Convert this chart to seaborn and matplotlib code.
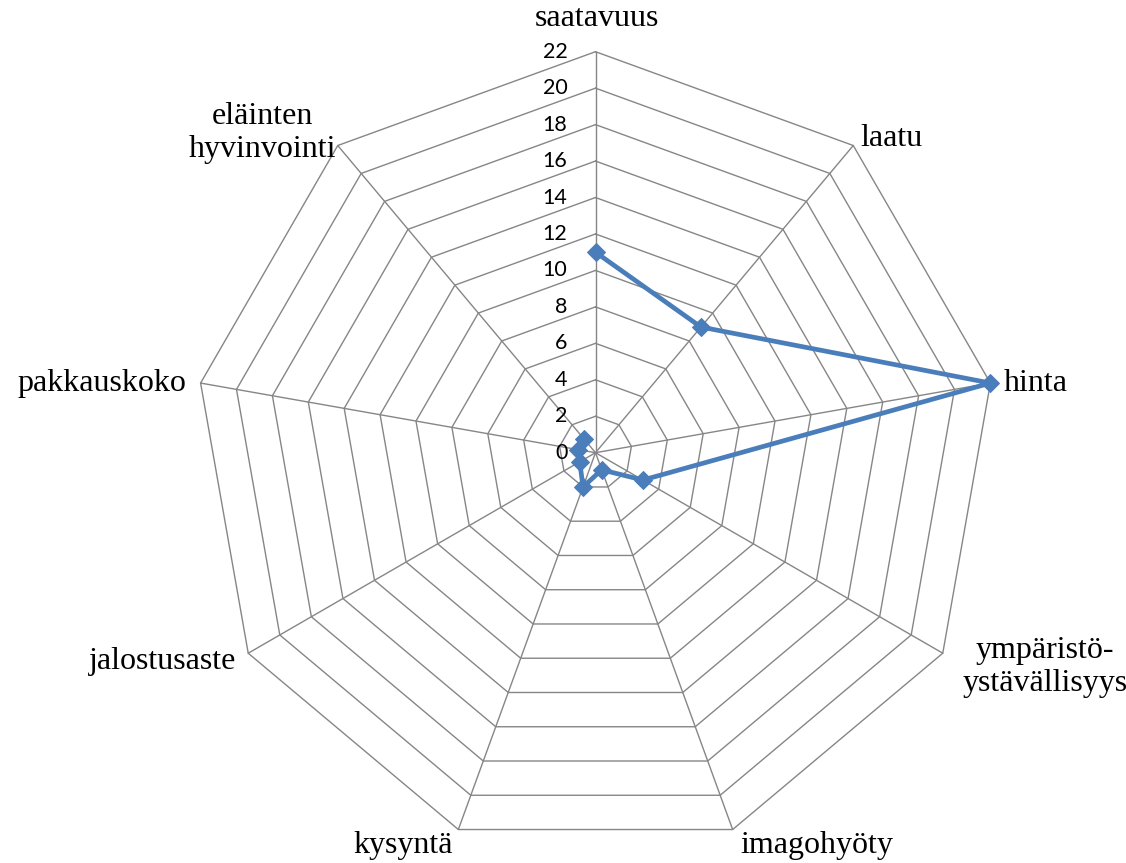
import numpy as np
import pandas as pd
import matplotlib
matplotlib.use("Agg")
import matplotlib.pyplot as plt
import seaborn as sns

# Criteria, listed clockwise from the top
categories = ["saatavuus", "laatu", "hinta", "ympäristö-\nystävällisyys", "imagohyöty",
              "kysyntä", "jalostusaste", "pakkauskoko", "eläinten\nhyvinvointi"]
scores = [11, 9, 22, 3, 1, 2, 1, 1, 1]
ring_values = list(range(0, 23, 2))
ring_labels = [str(v) for v in ring_values]

sns.set_style("white")
plt.rcParams["font.family"] = ["Liberation Serif", "DejaVu Serif"]
plt.rcParams["text.color"] = "black"

W, H = 1126, 863
fig = plt.figure(figsize=(W / 100, H / 100), dpi=100)
ax = fig.add_axes([0, 0, 1, 1])

# Pixel-based layout: centre of the web and scale per unit
cx, cy = 595.5, 452.7
rmax = 22
scale = 401.0 / rmax

n = len(categories)
theta = np.arange(n) * 2 * np.pi / n  # clockwise from top


def to_xy(r, t):
    return np.asarray(r) * np.sin(t), np.asarray(r) * np.cos(t)


grid_col = "#868686"
# Nonagon rings
for v in ring_values[1:]:
    tt = np.append(theta, theta[0])
    gx, gy = to_xy(np.full(len(tt), v), tt)
    ax.plot(gx, gy, color=grid_col, lw=1.0, zorder=1)
# Spokes
for t in theta:
    sx, sy = to_xy([0, rmax], [t, t])
    ax.plot(sx, sy, color=grid_col, lw=1.0, zorder=1)

# Radial tick labels along the top spoke
for v, lab in zip(ring_values, ring_labels):
    ax.text(-28 / scale, v, lab, ha="right", va="center", fontsize=15.5,
            family=["Lato", "DejaVu Sans"], color="black")

# Data series
closed_t = np.append(theta, theta[0])
closed_r = np.append(scores, scores[0])
px, py = to_xy(closed_r, closed_t)
df = pd.DataFrame({"x": px, "y": py})
sns.lineplot(data=df, x="x", y="y", sort=False, ax=ax, color="#4A7EBB",
             lw=3.4, marker="D", markersize=9, markeredgecolor="#4A7EBB",
             zorder=3, legend=False)
ax.set_xlabel("")
ax.set_ylabel("")
ax.set_axis_off()
ax.set_xlim(-cx / scale, (W - cx) / scale)
ax.set_ylim(-(H - cy) / scale, cy / scale)

# Category labels, positioned in pixels relative to the centre
label_pos = [
    (597, 18, "center", "center"),
    (860, 138, "left", "center"),
    (1004, 383, "left", "center"),
    (1045, 667, "center", "center"),
    (740, 845, "left", "center"),
    (453, 845, "right", "center"),
    (236, 662, "right", "center"),
    (186, 383, "right", "center"),
    (262, 133, "center", "center"),
]
for lab, (lx, ly, ha, va) in zip(categories, label_pos):
    ax.text((lx - cx) / scale, (cy - ly) / scale, lab, ha=ha, va=va,
            fontsize=23, linespacing=1.17, multialignment="center",
            color="black")

fig.savefig("out.png", dpi=100)
